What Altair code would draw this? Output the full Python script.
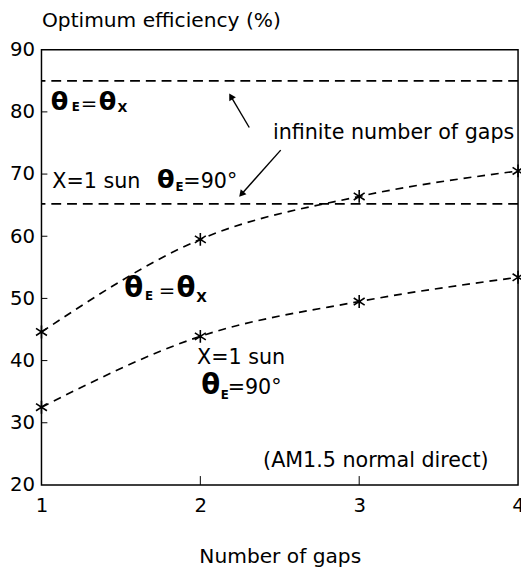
import altair as alt
import pandas as pd

# ---- data ----
gaps = [1, 2, 3, 4]
eff_theta_equal = [44.6, 59.5, 66.4, 70.5]   # theta_E = theta_X
eff_one_sun = [32.5, 43.9, 49.5, 53.4]       # X = 1 sun, theta_E = 90 deg
limit_values = [85.0, 65.2]                  # infinite number of gaps
x_tick_values = [1, 2, 3, 4]
y_tick_values = [20, 30, 40, 50, 60, 70, 80, 90]
inner_y_ticks = [30, 40, 50, 60, 70, 80]
inner_x_ticks = [2, 3]

# annotation pieces (data units)
plain_x = [2.457, 2.395, 1.068, 1.893, 1.979, 2.172, 1.248, 1.738]
plain_y = [75.59, 22.85, 67.83, 67.83, 39.48, 34.57, 80.34, 50.25]
plain_t = ["infinite number of gaps", "(AM1.5 normal direct)", "X=1 sun", "=90°",
           "X=1 sun", "=90°", "=", "="]
plain_s = [21, 21, 21, 21, 21, 21, 20, 20]

theta_x = [1.058, 1.360, 1.727, 1.521, 1.850, 2.006]
theta_y = [80.34, 80.34, 67.83, 50.25, 50.25, 34.57]
theta_s = [26, 26, 26, 28, 28, 28]

sub_x = [1.191, 1.478, 1.843, 1.652, 1.975, 2.128]
sub_y = [80.18, 80.02, 67.35, 49.77, 49.46, 33.78]
sub_t = ["E", "X", "E", "E", "X", "E"]
sub_s = [12, 13, 12, 12, 14, 12]

arrow_x = [2.308, 2.506]
arrow_y = [77.49, 73.85]
arrow_x2 = [2.196, 2.263]
arrow_y2 = [82.34, 66.88]
arrow_angle = [329.5, 221.8]

W, H = 484, 442
FONT = "DejaVu Sans"

xs = alt.Scale(domain=[1, 4], nice=False, zero=False)
ys = alt.Scale(domain=[20, 90], nice=False, zero=False)

curves = pd.DataFrame({
    "gaps": gaps * 2,
    "eff": eff_theta_equal + eff_one_sun,
    "series": ["theta"] * 4 + ["sun"] * 4,
})

x_axis = alt.Axis(values=x_tick_values, title="Number of gaps", format="d",
                  ticks=False, domain=False, grid=False,
                  labelFont=FONT, labelFontSize=20, labelColor="black",
                  labelPadding=11, labelFlush=False,
                  titleFont=FONT, titleFontSize=20.5, titleFontWeight="normal",
                  titleColor="black", titleY=79, titleBaseline="alphabetic")
y_axis = alt.Axis(values=y_tick_values, title="Optimum efficiency (%)", format="d",
                  ticks=False, domain=False, grid=False,
                  labelFont=FONT, labelFontSize=20, labelColor="black",
                  labelPadding=7, labelFlush=False, labelOverlap=False,
                  titleFont=FONT, titleFontSize=20.5, titleFontWeight="normal",
                  titleColor="black", titleAngle=0, titleAlign="left",
                  titleX=0, titleY=-24, titleBaseline="alphabetic")


def X(field):
    return alt.X(field, scale=xs, axis=x_axis, title="Number of gaps")


def Y(field):
    return alt.Y(field, scale=ys, axis=y_axis, title="Optimum efficiency (%)")


lines = alt.Chart(curves).mark_line(
    interpolate="monotone", strokeDash=[8, 6], strokeWidth=1.7, color="black"
).encode(x=X("gaps:Q"), y=Y("eff:Q"), detail="series:N")

star_path = "M0,-1V1M-0.85,-0.55L0.85,0.55M-0.85,0.55L0.85,-0.55"
points = alt.Chart(curves).mark_point(
    shape=star_path, size=170, filled=False, stroke="black", strokeWidth=1.6, opacity=1
).encode(x=X("gaps:Q"), y=Y("eff:Q"))

limits = alt.Chart(pd.DataFrame({"lim": limit_values})).mark_rule(
    strokeDash=[10, 6], strokeWidth=1.8, color="black"
).encode(y=Y("lim:Q"))

ytick_layer = alt.Chart(pd.DataFrame({"v": inner_y_ticks})).mark_rule(
    color="black", strokeWidth=1
).encode(y=Y("v:Q"), x=alt.value(0), x2=alt.value(6))

xtick_layer = alt.Chart(pd.DataFrame({"v": inner_x_ticks})).mark_rule(
    color="black", strokeWidth=1
).encode(x=X("v:Q"), y=alt.value(H), y2=alt.value(H - 9))

plain = alt.Chart(pd.DataFrame({"x": plain_x, "y": plain_y, "t": plain_t, "s": plain_s})).mark_text(
    font=FONT, align="left", baseline="alphabetic", color="black"
).encode(
    x=X("x:Q"), y=Y("y:Q"),
    text="t:N", size=alt.Size("s:Q", scale=None, legend=None),
)

thetas = alt.Chart(pd.DataFrame({"x": theta_x, "y": theta_y, "s": theta_s})).mark_text(
    font=FONT, align="left", baseline="alphabetic", color="black", fontWeight="bold", text="θ"
).encode(
    x=X("x:Q"), y=Y("y:Q"),
    size=alt.Size("s:Q", scale=None, legend=None),
)

subs = alt.Chart(pd.DataFrame({"x": sub_x, "y": sub_y, "t": sub_t, "s": sub_s})).mark_text(
    font=FONT, align="left", baseline="alphabetic", color="black", fontWeight="bold"
).encode(
    x=X("x:Q"), y=Y("y:Q"),
    text="t:N", size=alt.Size("s:Q", scale=None, legend=None),
)

arrows_df = pd.DataFrame({"x": arrow_x, "y": arrow_y, "x2": arrow_x2, "y2": arrow_y2,
                          "a": arrow_angle})
arrow_lines = alt.Chart(arrows_df).mark_rule(color="black", strokeWidth=1.4).encode(
    x=X("x:Q"), y=Y("y:Q"), x2="x2:Q", y2="y2:Q",
)
arrow_heads = alt.Chart(arrows_df).mark_point(
    shape="triangle", size=60, filled=True, color="black", opacity=1
).encode(
    x=X("x2:Q"), y=Y("y2:Q"),
    angle=alt.Angle("a:Q", scale=None),
)

chart = alt.layer(
    lines, limits, points, ytick_layer, xtick_layer,
    plain, thetas, subs, arrow_lines, arrow_heads,
).properties(
    width=W, height=H,
    autosize=alt.AutoSizeParams(type="none"),
    padding={"left": 34, "top": 38, "right": 3, "bottom": 80},
    background="white",
).configure_view(stroke="black", strokeWidth=1.5)

chart.save("out.html", embed_options={"renderer": "svg", "actions": False})
